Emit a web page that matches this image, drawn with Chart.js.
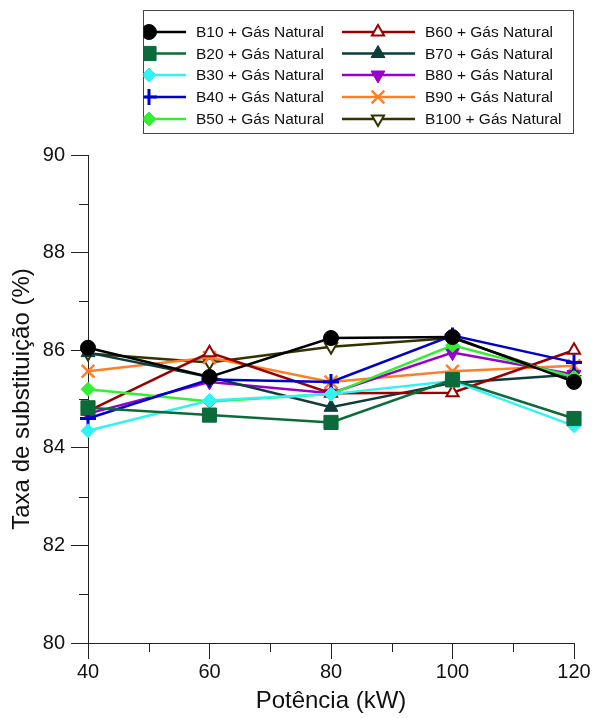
<!DOCTYPE html>
<html>
<head>
<meta charset="utf-8">
<script src="https://cdn.jsdelivr.net/npm/chart.js@4.4.1/dist/chart.umd.min.js"></script>
<style>
  html, body { margin: 0; padding: 0; background: #fff; }
  canvas { display: block; }
</style>
</head>
<body>
<canvas id="chart" width="596" height="718"></canvas>
<script>
const power = [40, 60, 80, 100, 120];
const xMinorTicks = [50, 70, 90, 110];
const yMinorTicks = [81, 83, 85, 87, 89];

const b10 = [86.05, 85.45, 86.25, 86.27, 85.35];
const b20 = [84.82, 84.67, 84.52, 85.40, 84.60];
const b30 = [84.35, 84.97, 85.10, 85.37, 84.45];
const b40 = [84.60, 85.40, 85.35, 86.30, 85.75];
const b50 = [85.20, 84.95, 85.10, 86.10, 85.45];
const b60 = [84.75, 85.95, 85.12, 85.13, 86.00];
const b70 = [85.95, 85.45, 84.83, 85.33, 85.50];
const b80 = [84.70, 85.35, 85.12, 85.95, 85.50];
const b90 = [85.57, 85.85, 85.35, 85.57, 85.68];
const b100 = [85.93, 85.75, 86.07, 86.25, 85.40];

const axisColor = '#222';
const font = 'Liberation Sans, Arial, sans-serif';

function series(label, values, color, style, opts) {
    return Object.assign({
        label: label,
        data: power.map((p, i) => ({ x: p, y: values[i] })),
        borderColor: color,
        backgroundColor: color,
        pointBackgroundColor: color,
        pointBorderColor: color,
        borderWidth: 2.5,
        pointStyle: style,
        pointRadius: 7,
        pointBorderWidth: 1,
        pointRotation: 0,
        clip: false
    }, opts || {});
}

const datasets = [
    series('B10 + Gás Natural', b10, '#000000', 'circle', { pointRadius: 7.5 }),
    series('B20 + Gás Natural', b20, '#0b6b3a', 'rect', { pointRadius: 10 }),
    series('B30 + Gás Natural', b30, '#33f2f2', 'rectRot'),
    series('B40 + Gás Natural', b40, '#0000cc', 'cross', { pointRadius: 8, pointBorderWidth: 3 }),
    series('B50 + Gás Natural', b50, '#33ee33', 'rectRot'),
    series('B60 + Gás Natural', b60, '#990000', 'triangle', { pointBackgroundColor: '#fff', pointBorderWidth: 2 }),
    series('B70 + Gás Natural', b70, '#0d3d3a', 'triangle', { pointRadius: 8 }),
    series('B80 + Gás Natural', b80, '#9900cc', 'triangle', { pointRadius: 8, pointRotation: 180 }),
    series('B90 + Gás Natural', b90, '#ff7f27', 'crossRot', { pointRadius: 9, pointBorderWidth: 2.5 }),
    series('B100 + Gás Natural', b100, '#333300', 'triangle', { pointBackgroundColor: '#fff', pointBorderWidth: 2, pointRotation: 180 })
];

// short ticks between the labelled ones
const minorTicks = {
    id: 'minorTicks',
    afterDraw(chart) {
        const { ctx, scales: { x, y } } = chart;
        ctx.save();
        ctx.strokeStyle = axisColor;
        ctx.lineWidth = 1;
        xMinorTicks.forEach(v => {
            const px = Math.round(x.getPixelForValue(v)) + 0.5;
            ctx.beginPath();
            ctx.moveTo(px, x.top);
            ctx.lineTo(px, x.top + 9);
            ctx.stroke();
        });
        yMinorTicks.forEach(v => {
            const py = Math.round(y.getPixelForValue(v)) + 0.5;
            ctx.beginPath();
            ctx.moveTo(y.right, py);
            ctx.lineTo(y.right - 9, py);
            ctx.stroke();
        });
        ctx.restore();
    }
};

// boxed legend, two columns filled top to bottom
const boxLegend = {
    id: 'boxLegend',
    afterDraw(chart) {
        const ctx = chart.ctx;
        const box = { left: 143.5, top: 10.5, right: 573.5, bottom: 133.5 };
        const cols = [
            { lineFrom: 145, lineTo: 186, marker: 149, text: 196 },
            { lineFrom: 342, lineTo: 415, marker: 378, text: 425 }
        ];
        const rowY = [32, 53.5, 75, 97, 119];
        ctx.save();
        ctx.strokeStyle = '#444';
        ctx.lineWidth = 1;
        ctx.strokeRect(box.left, box.top, box.right - box.left, box.bottom - box.top);
        ctx.beginPath();
        ctx.rect(box.left, box.top, box.right - box.left, box.bottom - box.top);
        ctx.clip();
        chart.data.datasets.forEach((ds, i) => {
            const col = cols[Math.floor(i / 5)];
            const y = rowY[i % 5];
            ctx.strokeStyle = ds.borderColor;
            ctx.lineWidth = 2.5;
            ctx.beginPath();
            ctx.moveTo(col.lineFrom, y);
            ctx.lineTo(col.lineTo, y);
            ctx.stroke();
            ctx.fillStyle = ds.pointBackgroundColor;
            ctx.strokeStyle = ds.pointBorderColor;
            ctx.lineWidth = ds.pointBorderWidth;
            Chart.helpers.drawPoint(ctx, {
                pointStyle: ds.pointStyle,
                radius: ds.pointRadius,
                rotation: ds.pointRotation,
                borderWidth: ds.pointBorderWidth
            }, col.marker, y);
            ctx.fillStyle = '#111';
            ctx.font = '15.5px ' + font;
            ctx.textBaseline = 'middle';
            ctx.textAlign = 'left';
            ctx.fillText(ds.label, col.text, y + 1);
        });
        ctx.restore();
    }
};

new Chart(document.getElementById('chart').getContext('2d'), {
    type: 'line',
    data: { datasets: datasets },
    options: {
        responsive: false,
        animation: false,
        devicePixelRatio: 1,
        layout: { padding: { top: 155, right: 22, bottom: 0, left: 0 } },
        plugins: { legend: { display: false }, tooltip: { enabled: false } },
        scales: {
            x: {
                type: 'linear',
                min: 40,
                max: 120,
                afterFit: s => { s.height = 75; },
                border: { display: true, color: axisColor, width: 1 },
                grid: { drawOnChartArea: false, drawTicks: true, tickLength: 16, color: axisColor },
                ticks: { stepSize: 20, padding: 1, color: '#111', font: { family: font, size: 20 } },
                title: { display: true, text: 'Potência (kW)', color: '#111', padding: { top: 0, bottom: 2 }, font: { family: font, size: 24 } }
            },
            y: {
                min: 80,
                max: 90,
                afterFit: s => { s.width = 88; },
                border: { display: true, color: axisColor, width: 1 },
                grid: { drawOnChartArea: false, drawTicks: true, tickLength: 17, color: axisColor },
                ticks: { stepSize: 2, padding: 6, color: '#111', font: { family: font, size: 20 } },
                title: { display: true, text: 'Taxa de substituição (%)', color: '#111', padding: { top: 8, bottom: 0 }, font: { family: font, size: 24 } }
            }
        }
    },
    plugins: [minorTicks, boxLegend]
});
</script>
</body>
</html>
